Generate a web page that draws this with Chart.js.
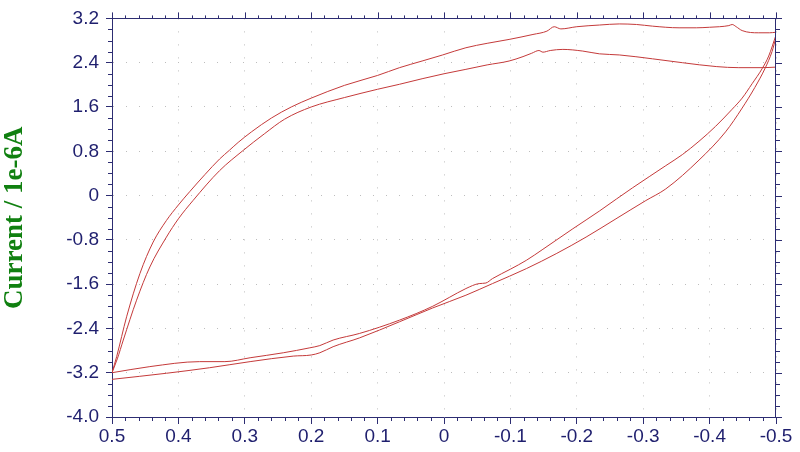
<!DOCTYPE html>
<html>
<head>
<meta charset="utf-8">
<script src="https://cdn.jsdelivr.net/npm/chart.js@4.4.1/dist/chart.umd.min.js"></script>
<style>
  html, body { margin: 0; padding: 0; background: #fff; }
  #wrap { width: 800px; height: 452px; position: relative; }
</style>
</head>
<body>
<div id="wrap"><canvas id="cvChart"></canvas></div>
<script>
// potential (V) and current (1e-6 A), one pair per branch
const upperOuterE = [-0.5, -0.49, -0.474, -0.449, -0.44, -0.434, -0.429, -0.415, -0.40, -0.38, -0.354, -0.314, -0.29, -0.264, -0.234, -0.2, -0.176, -0.166, -0.155, -0.134, -0.098, -0.065, -0.033, 0.002, 0.033, 0.067, 0.1, 0.15, 0.2, 0.23, 0.26, 0.29, 0.31, 0.323, 0.338, 0.36, 0.383, 0.4, 0.418, 0.438, 0.458, 0.478, 0.493, 0.5]
const upperOuterI = [2.95, 2.94, 2.94, 2.98, 3.05, 3.09, 3.07, 3.05, 3.04, 3.03, 3.03, 3.06, 3.09, 3.10, 3.08, 3.05, 3.01, 3.05, 2.97, 2.91, 2.82, 2.75, 2.67, 2.54, 2.43, 2.31, 2.17, 1.99, 1.76, 1.60, 1.40, 1.15, 0.96, 0.82, 0.66, 0.38, 0.07, -0.17, -0.45, -0.84, -1.41, -2.19, -2.91, -3.20]

const upperInnerE = [-0.5, -0.479, -0.444, -0.41, -0.359, -0.314, -0.264, -0.234, -0.209, -0.179, -0.160, -0.149, -0.143, -0.132, -0.119, -0.098, -0.065, -0.033, 0.0, 0.033, 0.067, 0.1, 0.15, 0.2, 0.24, 0.27, 0.303, 0.338, 0.378, 0.4, 0.418, 0.443, 0.463, 0.483, 0.492, 0.5]
const upperInnerI = [2.32, 2.31, 2.31, 2.33, 2.40, 2.47, 2.54, 2.56, 2.61, 2.64, 2.62, 2.59, 2.62, 2.57, 2.51, 2.43, 2.36, 2.28, 2.20, 2.11, 2.01, 1.92, 1.77, 1.60, 1.38, 1.12, 0.81, 0.45, -0.09, -0.42, -0.75, -1.29, -1.89, -2.61, -2.95, -3.20]

const lowerHighE = [0.5, 0.443, 0.368, 0.330, 0.292, 0.242, 0.202, 0.187, 0.167, 0.127, 0.067, 0.017, -0.008, -0.033, -0.053, -0.063, -0.073, -0.1, -0.124, -0.149, -0.194, -0.234, -0.26, -0.284, -0.334, -0.359, -0.384, -0.409, -0.434, -0.449, -0.464, -0.479, -0.489, -0.5]
const lowerHighI = [-3.20, -3.09, -3.00, -3.00, -2.93, -2.84, -2.75, -2.71, -2.61, -2.49, -2.25, -2.00, -1.84, -1.68, -1.59, -1.58, -1.50, -1.33, -1.17, -0.97, -0.60, -0.28, -0.06, 0.14, 0.54, 0.74, 0.98, 1.25, 1.56, 1.76, 2.02, 2.29, 2.52, 2.90]

const lowerLowE = [0.5, 0.418, 0.353, 0.292, 0.227, 0.20, 0.187, 0.167, 0.127, 0.067, 0.017, -0.033, -0.073, -0.124, -0.169, -0.214, -0.259, -0.304, -0.334, -0.384, -0.424, -0.449, -0.468, -0.484, -0.494, -0.5]
const lowerLowI = [-3.32, -3.21, -3.11, -3.00, -2.90, -2.88, -2.84, -2.73, -2.57, -2.28, -2.03, -1.80, -1.59, -1.32, -1.05, -0.75, -0.42, -0.09, 0.12, 0.64, 1.15, 1.58, 1.95, 2.31, 2.60, 2.86]

const xMin = -0.5, xMax = 0.5, xStep = 0.1, xMinorStep = 0.02
const yMin = -4.0, yMax = 3.2, yStep = 0.8, yMinorStep = 0.2

const axisColor = '#2d2d72'
const labelColor = '#1f1f6e'
const lineColor = '#c43a3a'
const tickFont = { family: "'Liberation Sans Narrow', 'Arial Narrow', 'Liberation Sans', Arial, sans-serif", size: 19 }

const toPoints = (es, is) => es.map((e, i) => ({ x: e, y: is[i] }))
const fmt = v => (Math.abs(v) < 1e-9 ? '0' : v.toFixed(1))

function branch(es, is) {
  return {
    data: toPoints(es, is),
    showLine: true,
    borderColor: lineColor,
    borderWidth: 1,
    pointRadius: 0,
    cubicInterpolationMode: 'monotone'
  }
}

// top/right frame + minor ticks all round (Chart.js has no minor ticks)
const frameTicks = {
  id: 'frameTicks',
  afterDraw(chart) {
    const { ctx, chartArea: a, scales: { x, y } } = chart
    ctx.save()
    ctx.strokeStyle = axisColor
    ctx.lineWidth = 1
    ctx.beginPath()
    ctx.moveTo(a.left, Math.round(a.top) + 0.5)
    ctx.lineTo(a.right, Math.round(a.top) + 0.5)
    ctx.moveTo(Math.round(a.right) - 0.5, a.top)
    ctx.lineTo(Math.round(a.right) - 0.5, a.bottom)

    const nx = Math.round((xMax - xMin) / xMinorStep)
    for (let k = 0; k <= nx; k++) {
      const px = Math.round(x.getPixelForValue(xMin + k * xMinorStep)) + 0.5
      const major = k % 5 === 0
      ctx.moveTo(px, a.top)
      ctx.lineTo(px, a.top - (major ? 6 : 3))
      if (!major) {
        ctx.moveTo(px, a.bottom)
        ctx.lineTo(px, a.bottom + 4)
      }
    }
    const ny = Math.round((yMax - yMin) / yMinorStep)
    for (let k = 0; k <= ny; k++) {
      const py = Math.round(y.getPixelForValue(yMin + k * yMinorStep)) + 0.5
      const major = k % 4 === 0
      ctx.moveTo(a.right, py)
      ctx.lineTo(a.right + (major ? 6 : 4), py)
      if (!major) {
        ctx.moveTo(a.left, py)
        ctx.lineTo(a.left - 4, py)
      }
    }
    ctx.stroke()
    ctx.restore()
  }
}

new Chart(document.getElementById('cvChart'), {
  type: 'scatter',
  data: {
    datasets: [
      branch(upperInnerE, upperInnerI),
      branch(lowerHighE, lowerHighI),
      branch(upperOuterE, upperOuterI),
      branch(lowerLowE, lowerLowI)
    ]
  },
  options: {
    responsive: true,
    maintainAspectRatio: false,
    animation: false,
    layout: { padding: { top: 17, right: 24, left: 0, bottom: 0 } },
    plugins: { legend: { display: false }, tooltip: { enabled: false } },
    scales: {
      x: {
        type: 'linear',
        reverse: true,
        min: xMin,
        max: xMax,
        afterFit: s => { s.height = 35 },
        ticks: { stepSize: xStep, color: labelColor, font: tickFont, padding: 1, maxRotation: 0, callback: fmt },
        grid: { color: '#bdbdbd', tickColor: axisColor, tickLength: 7, tickBorderDash: [] },
        border: { display: true, color: axisColor, width: 1, dash: [1, 12] }
      },
      y: {
        type: 'linear',
        min: yMin,
        max: yMax,
        afterFit: s => { s.width = 112 },
        ticks: { stepSize: yStep, color: labelColor, font: tickFont, padding: 7, callback: fmt },
        grid: { color: '#bdbdbd', tickColor: axisColor, tickLength: 6, tickBorderDash: [] },
        border: { display: true, color: axisColor, width: 1, dash: [1, 12] },
        title: {
          display: true,
          text: 'Current / 1e-6A',
          color: '#108010',
          padding: { top: 2, bottom: 0 },
          font: { family: "'Liberation Serif', 'Times New Roman', serif", size: 27, weight: 'bold', lineHeight: 1 }
        }
      }
    }
  },
  plugins: [frameTicks]
})
</script>
</body>
</html>
